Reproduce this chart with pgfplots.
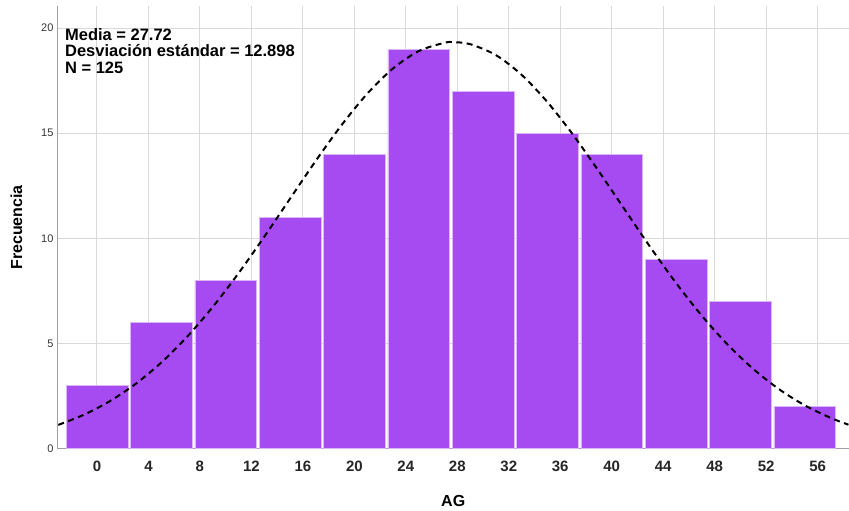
\documentclass[border=0pt]{standalone}
\usepackage{pgfplots}
\pgfplotsset{compat=1.18}
\usepackage{fontspec}
\setmainfont{Liberation Sans}
\definecolor{barc}{HTML}{A64AF2}
\definecolor{gridc}{HTML}{D9D9D9}
\definecolor{axc}{HTML}{A0A0A0}
\begin{document}
\begin{tikzpicture}
\begin{axis}[
  scale only axis,
  width=791pt, height=443pt,
  xmin=-3.03, xmax=58.4,
  ymin=0, ymax=21.05,
  axis x line*=bottom, axis y line*=left,
  axis line style={axc, line width=1pt, -},
  xtick={0,4,...,56},
  ytick={0,5,10,15,20},
  major tick length=0pt,
  grid=major,
  major grid style={gridc, line width=1pt},
  /pgf/number format/assume math mode=true,
  xticklabel style={font=\fontsize{15}{15}\selectfont\bfseries, text=black!85, yshift=-9pt},
  yticklabel style={font=\fontsize{11}{11}\selectfont, text=black!80, xshift=-1pt},
  xlabel={AG}, ylabel={Frecuencia},
  xlabel style={font=\fontsize{16}{16}\selectfont\bfseries, yshift=-17pt},
  ylabel style={font=\fontsize{16}{16}\selectfont\bfseries, yshift=12pt},
  clip=true,
]
\addplot[ybar, bar width=4.8, fill=barc, draw=barc!40, line width=0.5pt] coordinates {
  (0,3) (5,6) (10,8) (15,11) (20,14) (25,19) (30,17) (35,15) (40,14) (45,9) (50,7) (55,2)
};
\addplot[black, line width=2pt, dash pattern=on 6pt off 4.5pt, smooth] coordinates {
  (-3,1.134) (-1,1.620) (1,2.261) (3,3.080) (5,4.097) (7,5.320) (9,6.742) (11,8.343)
  (13,10.078) (15,11.886) (17,13.685) (19,15.381) (21,16.877) (23,18.078) (25,18.905)
  (27,19.300) (27.72,19.330) (29,19.235) (31,18.715) (33,17.776) (35,16.484) (37,14.922)
  (39,13.187) (41,11.378) (43,9.583) (45,7.879) (47,6.325) (49,4.956) (51,3.792)
  (53,2.831) (55,2.064) (57,1.470) (58.4,1.142)
};
\node[anchor=north west, inner sep=0pt, align=left, font=\fontsize{16.5}{16.5}\selectfont\bfseries]
  at (rel axis cs:0.0088,0.95) {Media = 27.72\\Desviación estándar = 12.898\\N = 125};
\end{axis}
\path (current axis.south west) ++(-58pt,-59pt) coordinate (bbsw);
\path (current axis.north east) ++(0pt,6pt) coordinate (bbne);
\useasboundingbox (bbsw) rectangle (bbne);
\end{tikzpicture}
\end{document}
